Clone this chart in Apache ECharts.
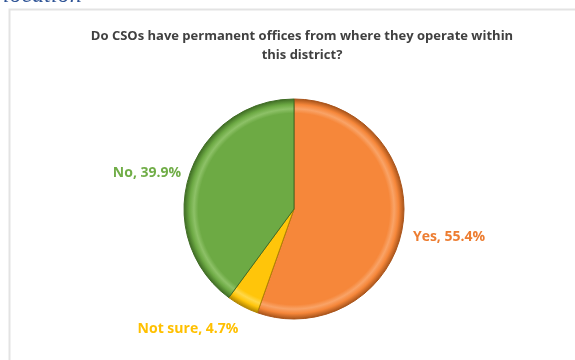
<!DOCTYPE html>
<html>
<head>
<meta charset="utf-8">
<script src="https://cdn.jsdelivr.net/npm/echarts@6/dist/echarts.min.js"></script>
<style>
  html, body { margin: 0; padding: 0; background: #ffffff; }
  #chart { width: 575px; height: 360px; }
</style>
</head>
<body>
<div id="chart"></div>
<script>
// Survey answers and their shares (%)
const categories = ['Yes', 'Not sure', 'No'];
const shares = [55.4, 4.7, 39.9];
const baseColors = ['#F6873A', '#FFC50A', '#6DAA44'];
const rimColors = ['#A9541A', '#B08400', '#3F6C24'];
const lightColors = ['#F9A367', '#FFD84A', '#8DC167'];
const labelColors = ['#ED7D31', '#FFC000', '#70AD47'];

const cx = 294, cy = 209, R = 110;

// Beveled look: flat fill, soft inner highlight, darker outer rim
function bevel(i) {
  return {
    type: 'radial', x: cx, y: cy, r: R, global: true,
    colorStops: [
      { offset: 0, color: baseColors[i] },
      { offset: 0.87, color: baseColors[i] },
      { offset: 0.91, color: lightColors[i] },
      { offset: 0.95, color: baseColors[i] },
      { offset: 1, color: rimColors[i] }
    ]
  };
}

// Label anchor spots around the pie
const labelSpots = [
  { x: 449, y: 237 },
  { x: 188, y: 329 },
  { x: 147, y: 173 }
];

const chart = echarts.init(document.getElementById('chart'), null, { renderer: 'canvas' });
chart.setOption({
  animation: false,
  title: [{
    text: 'Do CSOs have permanent offices from where they operate within\nthis district?',
    left: 297, top: 22, textAlign: 'center',
    textStyle: { fontFamily: 'Open Sans', fontWeight: 'bold', fontSize: 13, color: '#404040', lineHeight: 19 }
  }],
  graphic: {
    elements: [
      { type: 'rect', shape: { x: 9.5, y: 9.5, width: 580, height: 400 },
        style: { fill: 'none', stroke: '#E3E3E3', lineWidth: 2 }, silent: true },
      { type: 'text', x: 3, y: -16, z: 10,
        style: { text: 'location', fontSize: 24, fontStyle: 'italic', fontFamily: 'Liberation Serif', fill: '#2F5496' } }
    ]
  },
  series: [{
    type: 'pie',
    center: [cx, cy],
    radius: [0, R],
    startAngle: 90,
    clockwise: true,
    data: categories.map((name, i) => ({
      name, value: shares[i],
      itemStyle: { color: bevel(i), borderColor: rimColors[i], borderWidth: 1 },
      label: { color: labelColors[i] }
    })),
    label: {
      show: true,
      formatter: p => p.name + ', ' + p.value.toFixed(1) + '%',
      fontFamily: 'Open Sans', fontWeight: 'bold', fontSize: 14
    },
    labelLine: { show: false },
    labelLayout: p => ({
      x: labelSpots[p.dataIndex].x, y: labelSpots[p.dataIndex].y,
      align: 'center', verticalAlign: 'middle'
    }),
    emphasis: { disabled: true }
  }]
});
</script>
</body>
</html>
